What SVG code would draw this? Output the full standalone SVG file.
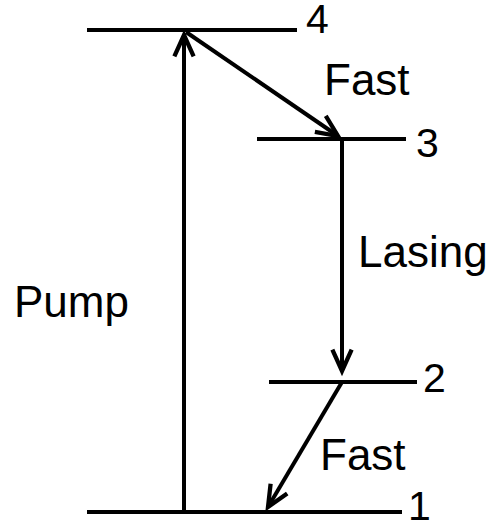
<svg xmlns="http://www.w3.org/2000/svg" width="491" height="523" viewBox="0 0 491 523">
<style>
.lvl{stroke:#000;stroke-width:4;fill:none}
.arr{stroke:#000;stroke-width:4;fill:none;marker-end:url(#ah)}
text{font-family:"Liberation Sans",Arial,sans-serif;font-size:44px;fill:#000}
text.num{font-size:41px}
</style>
<defs>
<marker id="ah" markerUnits="userSpaceOnUse" markerWidth="30" markerHeight="30" viewBox="-24 -12 28 24" refX="0" refY="0" orient="auto" overflow="visible">
<path d="M-20,-9 L0,0 L-20,9" fill="none" stroke="#000" stroke-width="4" stroke-linejoin="miter"/>
</marker>
</defs>
<rect width="491" height="523" fill="#fff"/>
<g id="level4"><line class="lvl" x1="87" y1="30" x2="297" y2="30"/><text class="num" x="306" y="33">4</text></g>
<g id="level3"><line class="lvl" x1="257" y1="139" x2="406" y2="139"/><text class="num" x="416" y="157">3</text></g>
<g id="level2"><line class="lvl" x1="269" y1="382" x2="417" y2="382"/><text class="num" x="423" y="392">2</text></g>
<g id="level1"><line class="lvl" x1="87" y1="512" x2="402" y2="512"/><text class="num" x="408" y="520">1</text></g>
<g id="connectors">
<line class="arr" x1="184" y1="512" x2="184" y2="35"/>
<line class="arr" x1="186" y1="32" x2="338" y2="136"/>
<line class="arr" x1="342" y1="139" x2="342" y2="371"/>
<line class="arr" x1="342" y1="382" x2="268" y2="507"/>
</g>
<g id="labels">
<text x="324" y="95">Fast</text>
<text x="358" y="267">Lasing</text>
<text x="14" y="317">Pump</text>
<text x="320" y="470">Fast</text>
</g>
</svg>
